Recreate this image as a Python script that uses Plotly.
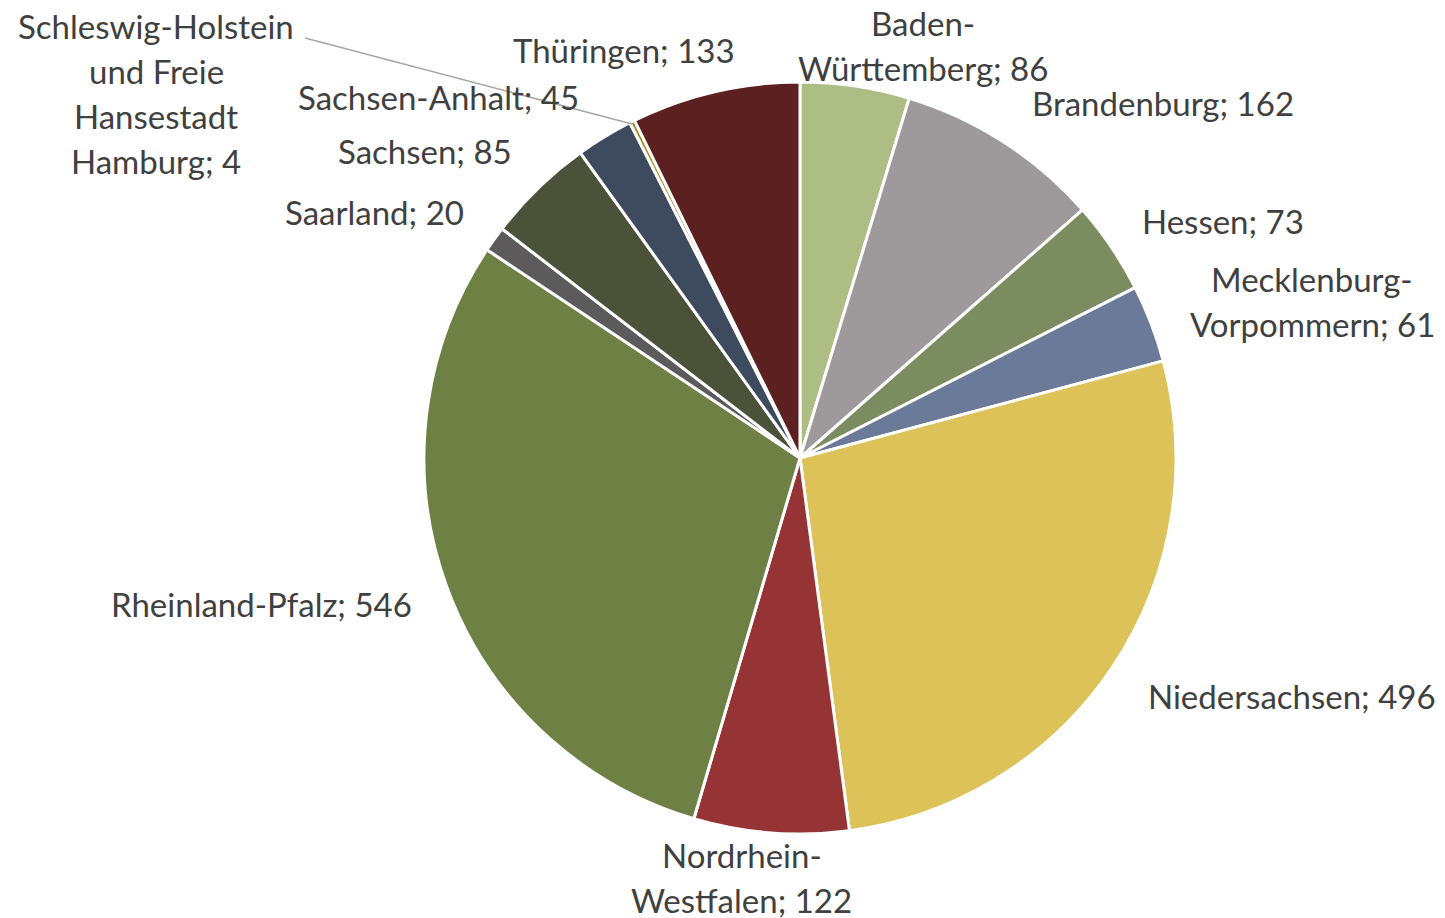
import plotly.graph_objects as go

OFF = 8  # page body margin in the browser
W, H = 1445 - OFF, 918 - OFF

# ---- data ----
states = [
    "Baden-\nWürttemberg", "Brandenburg", "Hessen", "Mecklenburg-\nVorpommern",
    "Niedersachsen", "Nordrhein-\nWestfalen", "Rheinland-Pfalz", "Saarland",
    "Sachsen", "Sachsen-Anhalt",
    "Schleswig-Holstein\nund Freie\nHansestadt\nHamburg", "Thüringen",
]
values = [86, 162, 73, 61, 496, 122, 546, 20, 85, 45, 4, 133]
colors = [
    "#ADBD84", "#9E999A", "#7A8C60", "#6B7A98",
    "#DDC25A", "#963335", "#6E8043", "#5C5A5A",
    "#4A533A", "#3E4A5E", "#A8902E", "#5C2021",
]

# label centre positions (pixels in screenshot, centre of first line)
label_pos = [
    (923, 23), (1163, 103), (1223, 221), (1312, 279),
    (1292, 696), (742, 855), (261, 604), (374, 212),
    (425, 151), (438, 97), (156, 26), (624, 50),
]
LINE_H = 45
FONT = dict(family="Lato, 'Open Sans', sans-serif", size=33, color="#404040")

cx, cy, r = 800 - OFF, 458 - OFF, 376


def px(x):
    return (x - OFF) / W


def py(y):
    return 1 - (y - OFF) / H


fig = go.Figure(go.Pie(
    labels=[s.replace("\n", " ") for s in states],
    values=values,
    sort=False,
    direction="clockwise",
    rotation=0,
    marker=dict(colors=colors, line=dict(color="white", width=3)),
    textinfo="none",
    hoverinfo="label+value",
    domain=dict(x=[(cx - r) / W, (cx + r) / W], y=[1 - (cy + r) / H, 1 - (cy - r) / H]),
    showlegend=False,
))

annotations = []
for name, val, (lx, ly) in zip(states, values, label_pos):
    lines = (name + "; " + str(val)).split("\n")
    for i, ln in enumerate(lines):
        annotations.append(dict(
            x=px(lx), y=py(ly + i * LINE_H), xref="paper", yref="paper",
            text=ln, showarrow=False, xanchor="center", yanchor="middle", font=FONT,
        ))

# leader line for Schleswig-Holstein
shapes = [dict(type="line", xref="paper", yref="paper",
               x0=px(305), y0=py(38), x1=px(632), y1=py(124),
               line=dict(color="#A6A6A6", width=1.5))]

fig.update_layout(
    width=W, height=H,
    margin=dict(l=0, r=0, t=0, b=0),
    paper_bgcolor="white", plot_bgcolor="white",
    annotations=annotations, shapes=shapes,
)

fig.write_html("out.html")
